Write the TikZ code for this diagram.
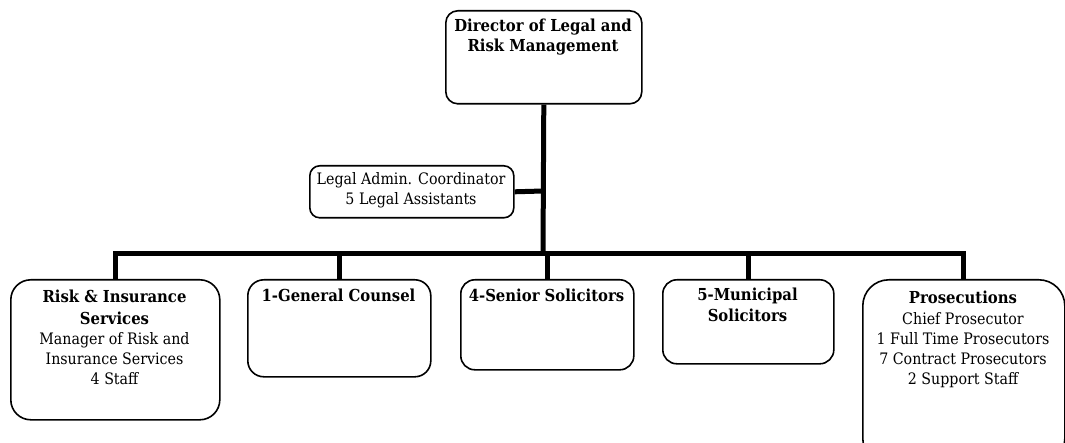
\documentclass[tikz,border=0pt]{standalone}
\usepackage{fontspec}
\setmainfont{DejaVu Serif Condensed}
\newcommand{\hdline}[1]{{\fontsize{16.5}{20}\selectfont\bfseries #1}}
\begin{document}
\begin{tikzpicture}[x=1pt,y=-1pt,
  box/.style={draw, line width=1.6pt, rounded corners=#1, inner sep=0pt, anchor=north west},
  txt/.style={align=center, inner sep=0pt, anchor=north, font=\fontsize{15.8}{20}\selectfont},
  btxt/.style={txt, font=\fontsize{16.5}{20}\selectfont\bfseries},
  conn/.style={line width=5pt}]
\useasboundingbox (0,0) rectangle (1065,443);
\clip (0,0) rectangle (1065,443);
% boxes
\node[box=12pt, minimum width=196pt, minimum height=93pt] (dir) at (445,10) {};
\node[box=10pt, minimum width=204pt, minimum height=52pt] (legal) at (309,165) {};
\node[box=20pt, minimum width=209pt, minimum height=140pt] (risk) at (10,279) {};
\node[box=16pt, minimum width=183pt, minimum height=97pt] (gc) at (247,279) {};
\node[box=14pt, minimum width=173pt, minimum height=90pt] (ss) at (460,279) {};
\node[box=14pt, minimum width=171pt, minimum height=84pt] (mun) at (662,279) {};
\node[box=26pt, minimum width=202pt, minimum height=185pt] (pros) at (862,279) {};
% texts
\node[btxt] (dirt) at (543,19) {Director of Legal and\\Risk Management};
\node[txt] (legalt) at (411,172) {Legal Admin. Coordinator\\5 Legal Assistants};
\node[txt] (riskt) at (114.5,290) {\hdline{Risk \& Insurance}\\[2pt]\hdline{Services}\\Manager of Risk and\\Insurance Services\\4 Staff};
\node[btxt] (gct) at (338.5,289) {1-General Counsel};
\node[btxt] (sst) at (546.5,289) {4-Senior Solicitors};
\node[btxt, font=\fontsize{16.5}{21}\selectfont\bfseries] (munt) at (747.5,288) {5-Municipal\\Solicitors};
\node[txt] (prost) at (963,291) {\hdline{Prosecutions}\\[1pt]Chief Prosecutor\\1 Full Time Prosecutors\\7 Contract Prosecutors\\2 Support Staff};
% connectors
\coordinate (j) at (543,254);
\coordinate (jl) at (543,191);
\draw[conn] (dir.south) -- (j);
\draw[conn] (legal.east) -- (jl);
\draw[conn] (risk.north) |- (j) -| (pros.north);
\draw[conn] (gc.north) -- (gc.north |- j);
\draw[conn] (ss.north) -- (ss.north |- j);
\draw[conn] (mun.north) -- (mun.north |- j);
\end{tikzpicture}
\end{document}
